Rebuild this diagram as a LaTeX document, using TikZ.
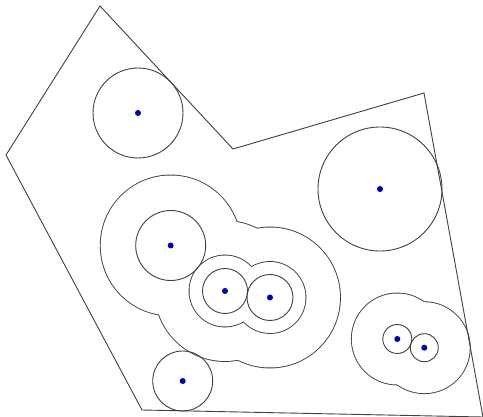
\documentclass[tikz,border=0pt]{standalone}
\begin{document}
\begin{tikzpicture}[x=1pt,y=-1pt,
  ring/.style={draw=black!75,line width=0.9pt},
  uline/.style={draw=black!75,line width=1.8pt},
  ufill/.style={fill=white},
  dot/.style={circle,fill=blue!70!black,inner sep=0pt,minimum size=6pt}]
\useasboundingbox (0,0) rectangle (483,417);
\clip (0,0) rectangle (483,417);
\fill[white] (0,0) rectangle (483,417);
\coordinate (A) at (138,113);
\coordinate (B) at (380,189);
\coordinate (C) at (170.7,245.5);
\coordinate (D) at (225,291);
\coordinate (E) at (270,297.5);
\coordinate (F) at (397.3,339);
\coordinate (G) at (424.3,347.7);
\coordinate (H) at (182.7,381);
% big union r70
\foreach \p in {C,D,E} \path[uline] (\p) circle (70);
\foreach \p in {C,D,E} \path[ufill] (\p) circle (70);
% union r35.5
\foreach \p in {D,E} \path[uline] (\p) circle (35.5);
\foreach \p in {D,E} \path[ufill] (\p) circle (35.5);
% bottom-right union
\foreach \p in {F,G} \path[uline] (\p) circle (45.5);
\foreach \p in {F,G} \path[ufill] (\p) circle (45.5);
% single circles
\path[ring] (A) circle (45);
\path[ring] (B) circle (62);
\path[ring] (C) circle (35);
\path[ring] (D) circle (22.5);
\path[ring] (E) circle (23);
\path[ring] (F) circle (14.5);
\path[ring] (G) circle (14);
\path[ring] (H) circle (30);
% polygon
\coordinate (v1) at (100,6);
\coordinate (v2) at (233,149);
\coordinate (v3) at (424,93);
\coordinate (v4) at (483,417);
\coordinate (v5) at (142,410);
\coordinate (v6) at (6,155);
\draw[draw=black!75,line width=0.9pt,line join=miter] (v1) -- (v2) -- (v3) -- (v4) -- (v5) -- (v6) -- cycle;
% dots
\foreach \p in {A,B,C,D,E,F,G,H} \node[dot] (d\p) at (\p) {};
\end{tikzpicture}
\end{document}
